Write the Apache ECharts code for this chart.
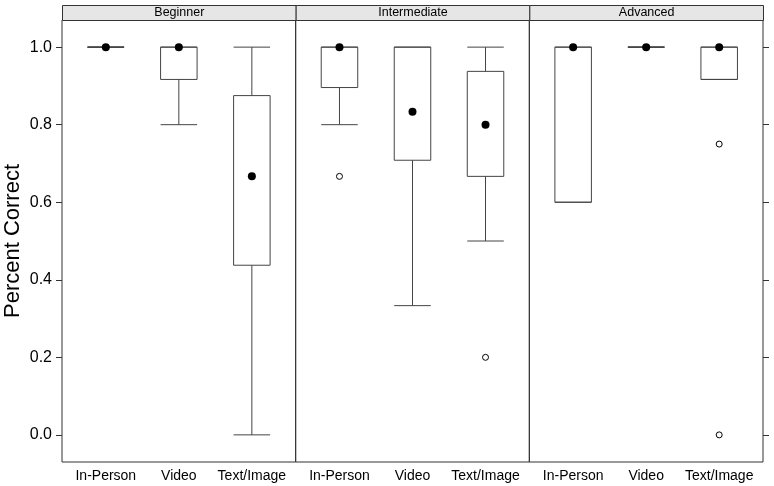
<!DOCTYPE html>
<html>
<head>
<meta charset="utf-8">
<script src="https://cdn.jsdelivr.net/npm/echarts@6/dist/echarts.min.js"></script>
<style>
  html, body { margin: 0; padding: 0; background: #fff; }
  #chart { width: 774px; height: 486px; }
</style>
</head>
<body>
<div id="chart"></div>
<script>
// panels and categories
const panels = ['Beginner', 'Intermediate', 'Advanced']
const methods = ['In-Person', 'Video', 'Text/Image']
const yTicks = [0, 0.2, 0.4, 0.6, 0.8, 1.0]

// box stats per method: [lower whisker, Q1, median, Q3, upper whisker]
const beginnerStats = [
  [1, 1, 1, 1, 1],
  [0.8, 0.9167, 1, 1, 1],
  [0, 0.4375, 0.6667, 0.875, 1]
]
const intermediateStats = [
  [0.8, 0.8958, 1, 1, 1],
  [0.3333, 0.7083, 0.8333, 1, 1],
  [0.5, 0.6667, 0.8, 0.9375, 1]
]
const advancedStats = [
  [0.6, 0.6, 1, 1, 1],
  [1, 1, 1, 1, 1],
  [0.9167, 0.9167, 1, 1, 1]
]

// outliers as [method position, value]
const beginnerOutliers = []
const intermediateOutliers = [[1, 0.6667], [3, 0.2]]
const advancedOutliers = [[3, 0.75], [3, 0]]

const panelStats = [beginnerStats, intermediateStats, advancedStats]
const panelOutliers = [beginnerOutliers, intermediateOutliers, advancedOutliers]

const font = '"Liberation Sans", Arial, Helvetica, sans-serif'
const lineCol = '#333'
const boxCol = '#444'

// layout of the lattice
const plotLeft = 62
const plotRight = 11
const plotTop = 20
const plotBottom = 24
const stripTop = 5
const stripH = 15
const panelW = (774 - plotLeft - plotRight) / 3

const chart = echarts.init(document.getElementById('chart'))

const halfBox = 0.25

function renderBox(params, api) {
  const x = api.value(0)
  const lo = api.value(1)
  const q1 = api.value(2)
  const q3 = api.value(4)
  const hi = api.value(5)
  const tl = api.coord([x - halfBox, q3])
  const br = api.coord([x + halfBox, q1])
  const style = { stroke: boxCol, lineWidth: 1, fill: null }
  const seg = (a, b) => ({
    type: 'line',
    shape: { x1: a[0], y1: a[1], x2: b[0], y2: b[1] },
    style: style
  })
  return {
    type: 'group',
    children: [
      {
        type: 'rect',
        shape: { x: tl[0], y: tl[1], width: br[0] - tl[0], height: br[1] - tl[1] },
        style: style
      },
      seg(api.coord([x, q3]), api.coord([x, hi])),
      seg(api.coord([x - halfBox, hi]), api.coord([x + halfBox, hi])),
      seg(api.coord([x, q1]), api.coord([x, lo])),
      seg(api.coord([x - halfBox, lo]), api.coord([x + halfBox, lo]))
    ]
  }
}

const grid = []
const xAxis = []
const yAxis = []
const series = []
const graphic = []

panels.forEach((name, i) => {
  const left = plotLeft + i * panelW
  grid.push({
    left: left,
    width: panelW,
    top: plotTop,
    bottom: plotBottom,
    containLabel: false,
    outerBoundsMode: 'none',
    show: true,
    borderColor: lineCol,
    borderWidth: 1
  })
  xAxis.push({
    type: 'value',
    gridIndex: i,
    min: 0.4,
    max: 3.6,
    axisLine: { show: false },
    axisTick: { show: false },
    splitLine: { show: false },
    axisLabel: {
      customValues: [1, 2, 3],
      formatter: v => methods[Math.round(v) - 1] || '',
      color: '#000',
      fontFamily: font,
      fontSize: 14,
      margin: 7
    }
  })
  yAxis.push({
    type: 'value',
    gridIndex: i,
    min: -0.07,
    max: 1.07,
    position: i === 2 ? 'right' : 'left',
    name: i === 0 ? 'Percent Correct' : '',
    nameLocation: 'middle',
    nameGap: 38,
    nameRotate: 90,
    nameTextStyle: { color: '#000', fontFamily: font, fontSize: 22 },
    axisLine: { show: false },
    splitLine: { show: false },
    axisTick: {
      show: i !== 1,
      inside: false,
      length: 6,
      customValues: yTicks,
      lineStyle: { color: lineCol, width: 1 }
    },
    axisLabel: {
      show: i === 0,
      customValues: yTicks,
      formatter: v => v.toFixed(1),
      color: '#000',
      fontFamily: font,
      fontSize: 16,
      margin: 10
    }
  })

  series.push({
    type: 'custom',
    xAxisIndex: i,
    yAxisIndex: i,
    renderItem: renderBox,
    encode: { x: 0, y: [1, 2, 3, 4, 5] },
    data: panelStats[i].map((s, j) => [j + 1].concat(s))
  })
  series.push({
    type: 'scatter',
    xAxisIndex: i,
    yAxisIndex: i,
    symbol: 'circle',
    symbolSize: 8,
    itemStyle: { color: '#000', opacity: 1 },
    z: 5,
    data: panelStats[i].map((s, j) => [j + 1, s[2]])
  })
  series.push({
    type: 'scatter',
    xAxisIndex: i,
    yAxisIndex: i,
    symbol: 'circle',
    symbolSize: 6,
    itemStyle: { color: '#fff', borderColor: '#000', borderWidth: 1, opacity: 1 },
    z: 5,
    data: panelOutliers[i]
  })

  // strip above each panel
  graphic.push({
    type: 'group',
    left: left,
    top: stripTop,
    children: [
      {
        type: 'rect',
        shape: { x: 0, y: 0, width: panelW, height: stripH },
        style: { fill: '#e6e6e6', stroke: lineCol, lineWidth: 1 }
      },
      {
        type: 'text',
        x: panelW / 2,
        y: stripH / 2,
        style: {
          text: name,
          fill: '#000',
          font: '12.5px ' + font,
          align: 'center',
          verticalAlign: 'middle'
        }
      }
    ]
  })
})

chart.setOption({
  animation: false,
  backgroundColor: '#fff',
  grid: grid,
  xAxis: xAxis,
  yAxis: yAxis,
  series: series,
  graphic: graphic
})
</script>
</body>
</html>
